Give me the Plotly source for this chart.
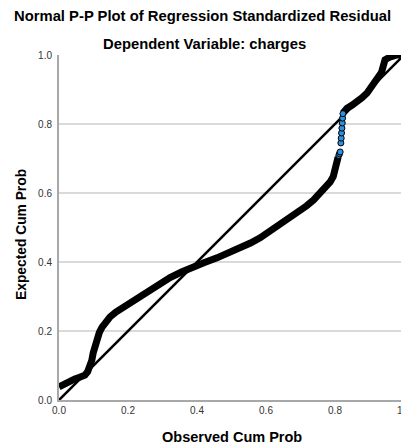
import plotly.graph_objects as go

# Dense part of the P-P curve (observed cum prob, expected cum prob)
obs_low = [0.0, 0.02, 0.046, 0.06, 0.075, 0.083, 0.09, 0.095, 0.099, 0.104, 0.110, 0.117,
           0.125, 0.135, 0.148, 0.165, 0.183, 0.20, 0.22, 0.24, 0.264, 0.29, 0.322, 0.355,
           0.388, 0.42, 0.458, 0.49, 0.525, 0.555, 0.583, 0.612, 0.64, 0.670, 0.695, 0.718,
           0.738, 0.757, 0.772, 0.786, 0.795, 0.80, 0.805, 0.809]
exp_low = [0.038, 0.05, 0.061, 0.066, 0.072, 0.082, 0.096, 0.115, 0.136, 0.158, 0.178, 0.196,
           0.211, 0.227, 0.241, 0.255, 0.267, 0.279, 0.292, 0.305, 0.322, 0.338, 0.355, 0.371,
           0.386, 0.398, 0.412, 0.425, 0.44, 0.455, 0.47, 0.49, 0.505, 0.527, 0.545, 0.563,
           0.58, 0.598, 0.614, 0.632, 0.648, 0.667, 0.685, 0.704]

# Sparse points around the jump near 0.82
obs_mid = [0.811, 0.813, 0.815, 0.817, 0.818, 0.819, 0.820, 0.821, 0.822, 0.823]
exp_mid = [0.709, 0.714, 0.719, 0.745, 0.759, 0.774, 0.788, 0.803, 0.817, 0.830]

# Upper dense part
obs_high = [0.823, 0.835, 0.85, 0.864, 0.878, 0.893, 0.905, 0.916, 0.93, 0.935, 0.939,
            0.945, 0.959, 0.98, 1.0]
exp_high = [0.832, 0.846, 0.855, 0.864, 0.876, 0.89, 0.905, 0.919, 0.936, 0.95, 0.965,
            0.986, 0.994, 1.0, 1.0]

ref_line = [0.0, 1.0]

tick_vals = [0.0, 0.2, 0.4, 0.6, 0.8, 1.0]
tick_text = ["0.0", "0.2", "0.4", "0.6", "0.8", "1.0"]

title_1 = "Normal P-P Plot of Regression Standardized Residual"
title_2 = "Dependent Variable: charges"
x_title = "Observed Cum Prob"
y_title = "Expected Cum Prob"

band_color = "#000000"
dot_color = "#2e90de"

fig = go.Figure()

fig.add_trace(go.Scatter(x=ref_line, y=ref_line, mode="lines",
                         line=dict(color="#000000", width=2.6), showlegend=False,
                         hoverinfo="skip"))

fig.add_trace(go.Scatter(x=obs_low, y=exp_low, mode="lines",
                         line=dict(color=band_color, width=7), showlegend=False))
fig.add_trace(go.Scatter(x=obs_high, y=exp_high, mode="lines",
                         line=dict(color=band_color, width=7), showlegend=False))
fig.add_trace(go.Scatter(x=obs_mid, y=exp_mid, mode="markers",
                         marker=dict(color=dot_color, size=6,
                                     line=dict(color="#000000", width=1)),
                         showlegend=False))

font_family = "Liberation Sans, Arial, sans-serif"

# page body has an 8px margin: figure spans 8..409 x 8..447 on screen
fig.update_layout(
    width=401, height=439,
    margin=dict(l=51, r=5, t=47, b=47, autoexpand=False),
    paper_bgcolor="white", plot_bgcolor="white",
    font=dict(family=font_family, color="#333333", size=10),
    showlegend=False,
)

fig.update_xaxes(range=[0, 1], tickvals=tick_vals, ticktext=tick_text,
                 showgrid=False, zeroline=False, showline=True,
                 linecolor="#a8a8a8", linewidth=2, ticks="",
                 ticklabeloverflow="allow", automargin=False,
                 tickfont=dict(size=10, color="#333333"))
fig.update_yaxes(range=[0, 1], tickvals=tick_vals, ticktext=tick_text,
                 showgrid=True, gridcolor="#dadada", gridwidth=2,
                 zeroline=False, showline=True,
                 linecolor="#a8a8a8", linewidth=2, ticks="",
                 ticklabelstandoff=3, ticklabeloverflow="allow", automargin=False,
                 tickfont=dict(size=10, color="#333333"))

# plot area on screen: x 59..404, y 55..400
def px_x(px):
    return (px - 59) / 345

def px_y(py):
    return (400 - py) / 345

fig.add_annotation(text="<b>%s</b>" % title_1, xref="paper", yref="paper",
                   x=px_x(202), y=px_y(15.5), showarrow=False,
                   xanchor="center", yanchor="middle",
                   font=dict(family=font_family, size=14.8, color="#000000"))
fig.add_annotation(text="<b>%s</b>" % title_2, xref="paper", yref="paper",
                   x=px_x(204), y=px_y(44), showarrow=False,
                   xanchor="center", yanchor="middle",
                   font=dict(family=font_family, size=14.8, color="#000000"))
fig.add_annotation(text="<b>%s</b>" % x_title, xref="paper", yref="paper",
                   x=px_x(231.5), y=px_y(437), showarrow=False,
                   xanchor="center", yanchor="middle",
                   font=dict(family=font_family, size=14.5, color="#000000"))
fig.add_annotation(text="<b>%s</b>" % y_title, xref="paper", yref="paper",
                   x=px_x(21), y=px_y(235), showarrow=False,
                   xanchor="center", yanchor="middle", textangle=-90,
                   font=dict(family=font_family, size=13.8, color="#000000"))

fig.write_html("out.html")
